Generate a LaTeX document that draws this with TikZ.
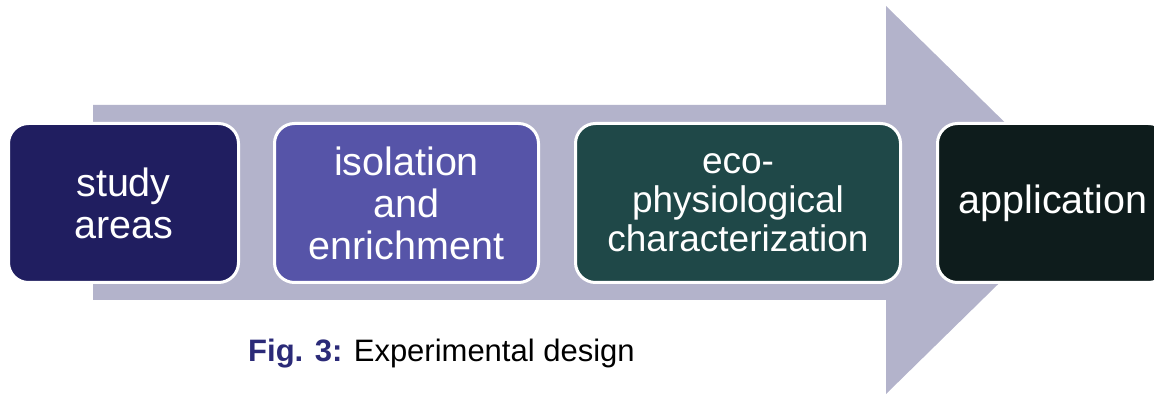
\documentclass[tikz,border=0pt]{standalone}
\usepackage{fontspec}
\setmainfont{Liberation Sans}
\definecolor{arrowc}{HTML}{B3B3CB}
\definecolor{boxa}{HTML}{201E60}
\definecolor{boxb}{HTML}{5654A8}
\definecolor{boxc}{HTML}{1F4848}
\definecolor{boxd}{HTML}{0E1C1C}
\definecolor{figblue}{HTML}{2B2A78}
\tikzset{
  stage/.style={rectangle, rounded corners=20pt, draw=white, line width=3pt,
    minimum height=159pt, align=center, text=white, inner sep=0pt,
    font=\fontsize{39.5}{42}\selectfont},
}
\begin{document}
\begin{tikzpicture}[x=1pt,y=-1pt]
\useasboundingbox (0,0) rectangle (1154,395);
\clip (0,0) rectangle (1154,395);
\fill[arrowc] (93,105) -- (886,105) -- (886,6) -- (1084,200) -- (886,394) -- (886,300) -- (93,300) -- cycle;
\node[stage, fill=boxa, minimum width=230pt] (s1) at (123.5,203) {study\\areas};
\node[stage, fill=boxb, minimum width=264pt] (s2) at (406.5,203) {isolation\\and\\enrichment};
\node[stage, fill=boxc, minimum width=325pt, font=\fontsize{37}{39}\selectfont] (s3) at (738,203) {eco-\\physiological\\characterization};
\node[stage, fill=boxd, minimum width=231pt] (s4) at (1053,203) {application};
\node[anchor=base west, inner sep=0pt, font=\fontsize{31}{34}\selectfont] (cap) at (248,361)
  {\textbf{\color{figblue}Fig. 3:} Experimental design};
\end{tikzpicture}
\end{document}
